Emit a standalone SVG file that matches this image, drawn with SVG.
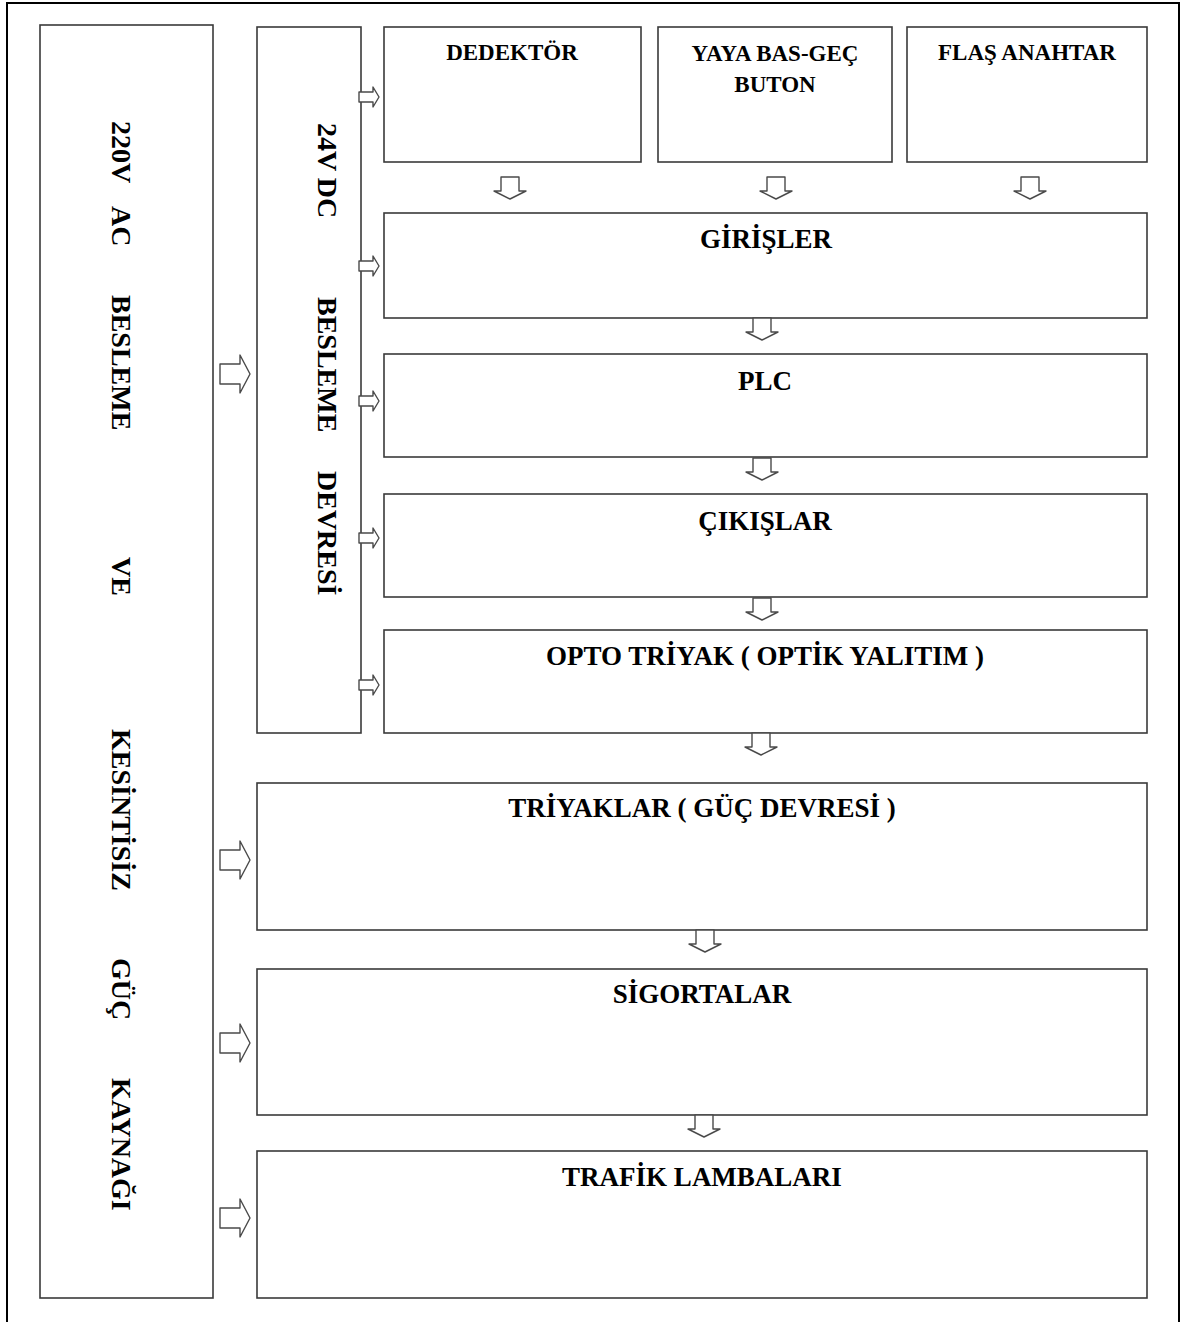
<svg xmlns="http://www.w3.org/2000/svg" width="1190" height="1322" viewBox="0 0 1190 1322">
<style>
.box{fill:#fff;stroke:#3a3a3a;stroke-width:1.6}
.t{font-family:"Liberation Serif","Times New Roman",serif;font-weight:bold;fill:#000}
.s{font-size:23px;text-anchor:middle}
.m{font-size:27px;text-anchor:middle}
.v{font-size:28px}
.arr{fill:#fff;stroke:#4a4a4a;stroke-width:1.4;stroke-linejoin:round}
</style>
<defs>
<path id="down" d="M-9,0 H9 V14 H16 L0,22 L-16,14 H-9 Z"/>
<path id="right" d="M0,-10 H20 V-19 L30,0 L20,19 V10 H0 Z"/>
<path id="rsmall" d="M0,-5 H14 V-10 L20,0 L14,10 V5 H0 Z"/>
</defs>
<rect width="1190" height="1322" fill="#fff"/>
<rect x="7" y="3" width="1172" height="1340" fill="none" stroke="#000" stroke-width="2"/>

<g id="ups">
<rect class="box" x="40" y="25" width="173" height="1273"/>
<text class="t v" transform="translate(112,0) rotate(90)"><tspan x="121">220V</tspan><tspan x="206">AC</tspan><tspan x="295">BESLEME</tspan><tspan x="557">VE</tspan><tspan x="729">KESİNTİSİZ</tspan><tspan x="958">GÜÇ</tspan><tspan x="1078">KAYNAĞI</tspan></text>
</g>
<g id="dc24">
<rect class="box" x="257" y="27" width="104" height="706"/>
<text class="t v" transform="translate(318,0) rotate(90)"><tspan x="123">24V DC</tspan><tspan x="297">BESLEME</tspan><tspan x="471">DEVRESİ</tspan></text>
</g>
<g id="dedektor">
<rect class="box" x="384" y="27" width="257" height="135"/>
<text class="t s" x="512" y="60">DEDEKTÖR</text>
</g>
<g id="yaya">
<rect class="box" x="658" y="27" width="234" height="135"/>
<text class="t s" x="775" y="61">YAYA BAS-GEÇ</text>
<text class="t s" x="775" y="92">BUTON</text>
</g>
<g id="flas">
<rect class="box" x="907" y="27" width="240" height="135"/>
<text class="t s" x="1027" y="60">FLAŞ ANAHTAR</text>
</g>
<g id="girisler">
<rect class="box" x="384" y="213" width="763" height="105"/>
<text class="t m" x="766" y="248">GİRİŞLER</text>
</g>
<g id="plc">
<rect class="box" x="384" y="354" width="763" height="103"/>
<text class="t m" x="765" y="390">PLC</text>
</g>
<g id="cikislar">
<rect class="box" x="384" y="494" width="763" height="103"/>
<text class="t m" x="765" y="530">ÇIKIŞLAR</text>
</g>
<g id="opto">
<rect class="box" x="384" y="630" width="763" height="103"/>
<text class="t m" x="765" y="665">OPTO TRİYAK ( OPTİK YALITIM )</text>
</g>
<g id="triyaklar">
<rect class="box" x="257" y="783" width="890" height="147"/>
<text class="t m" x="702" y="817">TRİYAKLAR ( GÜÇ DEVRESİ )</text>
</g>
<g id="sigortalar">
<rect class="box" x="257" y="969" width="890" height="146"/>
<text class="t m" x="702" y="1003">SİGORTALAR</text>
</g>
<g id="trafik">
<rect class="box" x="257" y="1151" width="890" height="147"/>
<text class="t m" x="702" y="1186">TRAFİK LAMBALARI</text>
</g>

<g id="connectors">
<use href="#down" class="arr" x="510" y="177"/>
<use href="#down" class="arr" x="776" y="177"/>
<use href="#down" class="arr" x="1030" y="177"/>
<use href="#down" class="arr" x="762" y="318"/>
<use href="#down" class="arr" x="762" y="458"/>
<use href="#down" class="arr" x="762" y="598"/>
<use href="#down" class="arr" x="761" y="733"/>
<use href="#down" class="arr" x="705" y="930"/>
<use href="#down" class="arr" x="704" y="1115"/>
<use href="#right" class="arr" x="220" y="374"/>
<use href="#right" class="arr" x="220" y="860"/>
<use href="#right" class="arr" x="220" y="1043"/>
<use href="#right" class="arr" x="220" y="1218"/>
<use href="#rsmall" class="arr" x="359" y="97"/>
<use href="#rsmall" class="arr" x="359" y="266"/>
<use href="#rsmall" class="arr" x="359" y="401"/>
<use href="#rsmall" class="arr" x="359" y="538"/>
<use href="#rsmall" class="arr" x="359" y="685"/>
</g>
</svg>
